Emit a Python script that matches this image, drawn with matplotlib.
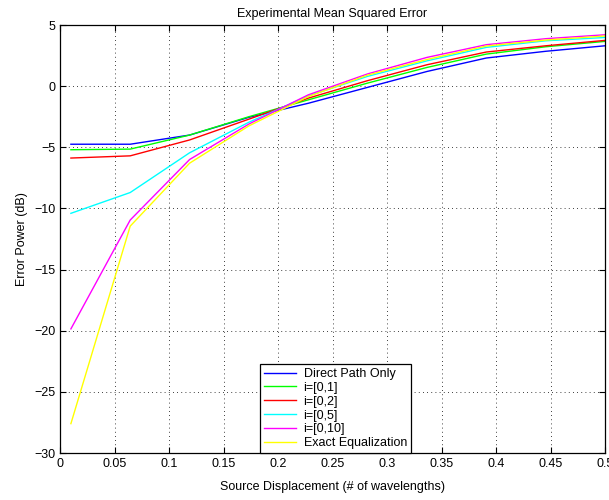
import matplotlib
matplotlib.use('Agg')
import matplotlib.pyplot as plt
from matplotlib.ticker import FormatStrFormatter, FuncFormatter

plt.rcParams['font.family'] = ['Liberation Sans', 'DejaVu Sans']

# source displacement in wavelengths
displacement = [0.01, 0.0644, 0.1189, 0.1733, 0.2278, 0.2822, 0.3367, 0.3911, 0.4456, 0.5]

# error power (dB) for each equalizer
direct_path = [-4.75, -4.75, -4.0, -2.55, -1.4, -0.1, 1.2, 2.3, 2.85, 3.3]
taps_0_1 = [-5.2, -5.15, -4.0, -2.5, -1.12, 0.25, 1.53, 2.62, 3.22, 3.66]
taps_0_2 = [-5.88, -5.7, -4.4, -2.7, -0.98, 0.45, 1.75, 2.79, 3.3, 3.74]
taps_0_5 = [-10.4, -8.7, -5.45, -2.95, -0.8, 0.8, 2.07, 3.17, 3.71, 3.98]
taps_0_10 = [-19.85, -10.95, -6.0, -3.1, -0.71, 1.0, 2.35, 3.39, 3.88, 4.2]
exact_eq = [-27.6, -11.45, -6.3, -3.25, -0.85, 0.9, 2.18, 3.28, 3.77, 4.1]

series = [
    ('Direct Path Only', direct_path, '#0000ff'),
    ('i=[0,1]', taps_0_1, '#00ff00'),
    ('i=[0,2]', taps_0_2, '#ff0000'),
    ('i=[0,5]', taps_0_5, '#00ffff'),
    ('i=[0,10]', taps_0_10, '#ff00ff'),
    ('Exact Equalization', exact_eq, '#ffff00'),
]

fig = plt.figure(figsize=(6.09, 5.0), dpi=100)
ax = fig.add_axes([60 / 609, 1 - 453 / 500, 545 / 609, 428 / 500])

for label, vals, col in series:
    ax.plot(displacement, vals, color=col, lw=1.0, label=label)

ax.set_xlim(0, 0.5)
ax.set_ylim(-30, 5)
ax.set_xticks([i * 0.05 for i in range(11)])
ax.set_yticks(range(-30, 6, 5))
ax.xaxis.set_major_formatter(FuncFormatter(lambda v, p: '%g' % round(v, 2)))
ax.tick_params(direction='in', top=True, right=True, labelsize=9, length=4, width=0.8)
ax.grid(True, color='black', linestyle=(0, (1, 4)), linewidth=0.6)
for sp in ax.spines.values():
    sp.set_linewidth(0.9)

ax.set_title('Experimental Mean Squared Error', fontsize=9, pad=6)
ax.set_xlabel('Source Displacement (# of wavelengths)', fontsize=9, labelpad=8)
ax.set_ylabel('Error Power (dB)', fontsize=9, labelpad=4)

leg = ax.legend(loc='lower center', bbox_to_anchor=(0.505, 0.0), borderaxespad=0,
                fontsize=9, fancybox=False, framealpha=1, edgecolor='black',
                handlelength=2.6, labelspacing=0.15, borderpad=0.3, handletextpad=0.6)
leg.get_frame().set_linewidth(0.9)

fig.savefig('out.png', dpi=100)
